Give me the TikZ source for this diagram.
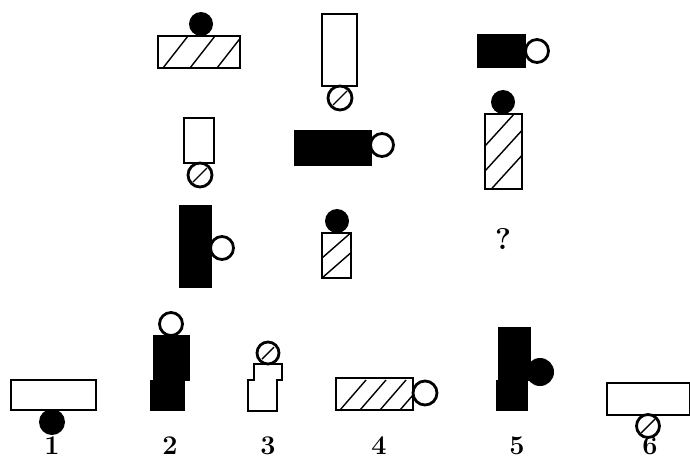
\documentclass[tikz,border=0pt]{standalone}
\begin{document}
\begin{tikzpicture}[x=1pt,y=-1pt,
  outl/.style={line width=2.8pt},
  hat/.style={line width=1.4pt},
  blk/.style={fill=black,draw=black,line width=1pt},
  lbl/.style={font=\bfseries\fontsize{27}{27}\selectfont, inner sep=0pt}]
\useasboundingbox (0,0) rectangle (690,466);
% ---------- Row 1 ----------
% A1 hatched rect + black circle on top
\begin{scope}\clip (158,36) rectangle (240,68);
  \foreach \x in {163,190,217} \draw[hat] (\x,68) -- ++(25,-32);
\end{scope}
\draw[outl] (158,36) rectangle (240,68);
\fill (201,24) circle (12pt);
% A2 tall white rect + hatched circle below
\draw[outl] (322,14) rectangle (357,86);
\draw[outl] (340,98) circle (12pt);
\draw[hat] (333,105) -- (347,91);
% A3 black rect + white circle right
\draw[blk] (477,34) rectangle (525,67);
\draw[outl,fill=white] (537,51) circle (11.5pt);
% ---------- Row 2 ----------
% B1 small white rect + hatched circle below
\draw[outl] (184,118) rectangle (214,163);
\draw[outl] (200,175) circle (12pt);
\draw[hat] (193,182) -- (207,168);
% B2 black rect + white circle right
\draw[blk] (294,130) rectangle (371,165);
\draw[outl,fill=white] (382,145) circle (11.5pt);
% B3 hatched tall rect + black circle on top
\begin{scope}\clip (485,114) rectangle (522,189);
  \foreach \y in {146,171,196} \draw[hat] (485,\y) -- ++(40,-44);
\end{scope}
\draw[outl] (485,114) rectangle (522,189);
\fill (503,102) circle (12pt);
% ---------- Row 3 ----------
% C1 black tall rect + white circle right
\draw[blk] (179,205) rectangle (211,287);
\draw[outl,fill=white] (222,248) circle (11.5pt);
% C2 hatched rect + black circle on top
\begin{scope}\clip (322,233) rectangle (351,278);
  \foreach \y in {258,278} \draw[hat] (322,\y) -- ++(32,-28);
\end{scope}
\draw[outl] (322,233) rectangle (351,278);
\fill (337,221) circle (12pt);
% question mark
\node[font=\bfseries\fontsize{30}{30}\selectfont, inner sep=0pt] (q) at (503,239) {?};
% ---------- Options ----------
% 1
\draw[outl] (11,380) rectangle (96,410);
\fill (52,422) circle (13pt);
\node[lbl] (n1) at (52,446) {1};
% 2
\fill (153,335) rectangle (190,381);
\fill (150,380) rectangle (185,411);
\draw[outl] (171,324) circle (11.5pt);
\node[lbl] (n2) at (170,446) {2};
% 3
\draw[outl] (254,364) -- (282,364) -- (282,380) -- (277,380) -- (277,411)
  -- (248,411) -- (248,380) -- (254,380) -- cycle;
\draw[outl] (268,353) circle (11pt);
\draw[hat] (262,359) -- (274,347);
\node[lbl] (n3) at (268,446) {3};
% 4
\begin{scope}\clip (336,378) rectangle (413,410);
  \foreach \x in {340,360,380,400} \draw[hat] (\x,410) -- ++(26,-30);
\end{scope}
\draw[outl] (336,378) rectangle (413,410);
\draw[outl] (425,393) circle (12pt);
\node[lbl] (n4) at (379,446) {4};
% 5
\fill (498,327) rectangle (531,381);
\fill (496,380) rectangle (528,411);
\fill (540,372) circle (14pt);
\node[lbl] (n5) at (517,446) {5};
% 6
\draw[outl] (607,383) rectangle (690,415);
\draw[outl] (648,426) circle (11.5pt);
\draw[hat] (641,433) -- (655,419);
\node[lbl] (n6) at (650,446) {6};
\end{tikzpicture}
\end{document}
